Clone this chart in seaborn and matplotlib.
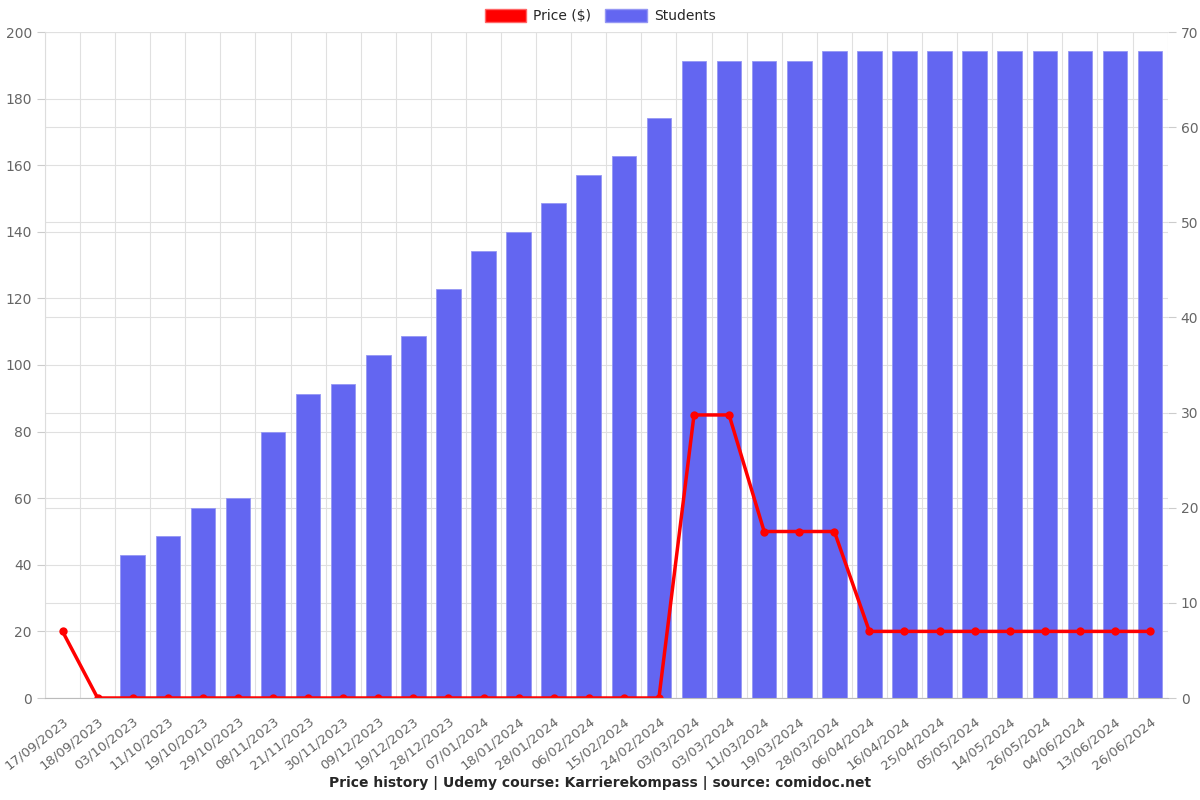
import numpy as np
import pandas as pd
import matplotlib
matplotlib.use("Agg")
import matplotlib.pyplot as plt
import seaborn as sns
from matplotlib.patches import Patch

dates = ["17/09/2023", "18/09/2023", "03/10/2023", "11/10/2023", "19/10/2023", "29/10/2023",
         "08/11/2023", "21/11/2023", "30/11/2023", "09/12/2023", "19/12/2023", "28/12/2023",
         "07/01/2024", "18/01/2024", "28/01/2024", "06/02/2024", "15/02/2024", "24/02/2024",
         "03/03/2024", "03/03/2024", "11/03/2024", "19/03/2024", "28/03/2024", "06/04/2024",
         "16/04/2024", "25/04/2024", "05/05/2024", "14/05/2024", "26/05/2024", "04/06/2024",
         "13/06/2024", "26/06/2024"]
price = [20, 0, 0, 0, 0, 0, 0, 0, 0, 0, 0, 0, 0, 0, 0, 0, 0, 0,
         85, 85, 50, 50, 50, 20, 20, 20, 20, 20, 20, 20, 20, 20]
students = [np.nan, np.nan, 15, 17, 20, 21, 28, 32, 33, 36, 38, 43, 47, 49, 52, 55, 57, 61,
            67, 67, 67, 67, 68, 68, 68, 68, 68, 68, 68, 68, 68, 68]

idx = list(range(len(dates)))
df = pd.DataFrame({"i": idx, "date": dates, "price": price, "students": students})

sns.set_style("white")
plt.rcParams['font.family'] = ['DejaVu Sans']

fig = plt.figure(figsize=(12, 8), dpi=100)
ax = fig.add_axes([0.0375, 0.1275, 0.9355, 0.8325])
ax2 = ax.twinx()

bar_color = "#6366F1"
sns.barplot(data=df.dropna(), x="i", y="students", native_scale=True, width=0.7,
            color=bar_color, saturation=1, edgecolor="#9597F4", linewidth=0.6, ax=ax2)
sns.lineplot(data=df, x="i", y="price", color="red", linewidth=2.5, marker="o",
             markersize=6, markeredgewidth=0, ax=ax)

ax.set_zorder(ax2.get_zorder() + 1)
ax.patch.set_visible(False)

ax.set_xlim(-0.5, len(dates) - 0.5)
ax.set_ylim(0, 200)
ax2.set_ylim(0, 70)
ax.set_yticks(range(0, 201, 20))
ax2.set_yticks(range(0, 71, 10))

ax.set_xticks(idx)
ax.set_xticklabels(dates, rotation=38, ha="right", rotation_mode="anchor")
ax.set_xticks(np.arange(-0.5, len(dates), 1.0), minor=True)

grid_c = "#e0e0e0"
ax.grid(False)
ax2.grid(False)
ax2.yaxis.grid(True, color=grid_c, linewidth=0.8)
ax2.set_axisbelow(True)
ax2.xaxis.grid(False)
for xb in np.arange(-0.5, len(dates), 1.0):
    ax2.axvline(xb, color=grid_c, linewidth=0.8, zorder=0)
for yv in range(0, 201, 20):
    ax2.axhline(yv * 70 / 200, color=grid_c, linewidth=0.8, zorder=0)

for a in (ax, ax2):
    for s in a.spines.values():
        s.set_visible(False)
ax.spines["bottom"].set_visible(True)
ax.spines["bottom"].set_color("#bbbbbb")
ax.spines["left"].set_visible(True)
ax.spines["left"].set_color("#dddddd")

ax.tick_params(axis="x", which="major", length=0, labelsize=9.5, labelcolor="#666666", pad=12)
ax.tick_params(axis="x", which="minor", length=6, color="#cccccc")
ax.tick_params(axis="y", length=6, color="#cccccc", labelsize=10, labelcolor="#666666")
ax2.tick_params(axis="y", length=6, color="#cccccc", labelsize=10, labelcolor="#666666")
ax.set_xlabel("")
ax.set_ylabel("")
ax2.set_xlabel("")
ax2.set_ylabel("")

handles = [Patch(facecolor="red", edgecolor="#ff6666", label="Price ($)"),
           Patch(facecolor=bar_color, edgecolor="#9597F4", label="Students")]
fig.legend(handles=handles, loc="upper center", bbox_to_anchor=(0.5, 1.005), ncol=2,
           frameon=False, fontsize=10, handlelength=3, handleheight=1.1,
           columnspacing=1.0, handletextpad=0.5)

fig.text(0.5, 0.021, "Price history | Udemy course: Karrierekompass | source: comidoc.net",
         ha="center", va="center", fontsize=10, fontweight="bold")

fig.savefig("out.png", dpi=100)
